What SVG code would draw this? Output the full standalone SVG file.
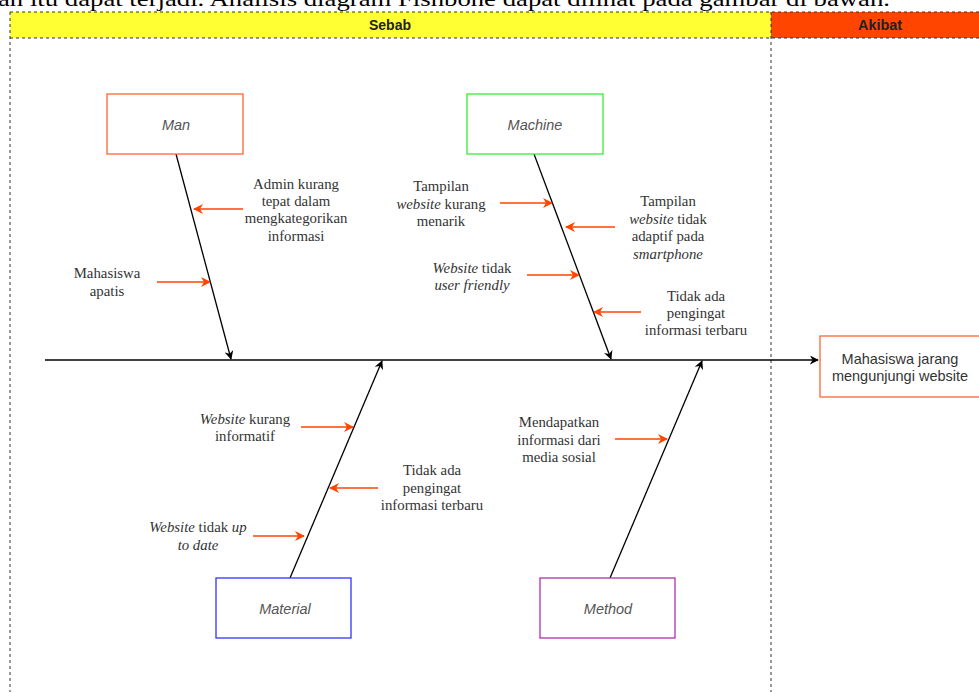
<svg xmlns="http://www.w3.org/2000/svg" width="979" height="692" viewBox="0 0 979 692">
<defs>
<style>
.lbl{font-family:"Liberation Serif","Times New Roman",serif;font-size:14.8px;fill:#333;text-anchor:middle}
.box{fill:#fff;stroke-width:1.3}
.bt{font-family:"Liberation Sans",Arial,sans-serif;font-size:14.5px;font-style:italic;fill:#555;text-anchor:middle}
.bone{stroke:#000;stroke-width:1.3;fill:none;marker-end:url(#ab)}
.sm{stroke:#FF4500;stroke-width:1.3;fill:none;marker-end:url(#ao)}
.dash{stroke:#333;stroke-width:1;stroke-dasharray:3 3;fill:none}
.hd{font-family:"Liberation Sans",Arial,sans-serif;font-size:14px;font-weight:bold;fill:#222;text-anchor:middle}
</style>
<marker id="ab" viewBox="0 0 10 10" refX="9" refY="5" markerWidth="9" markerHeight="9" markerUnits="userSpaceOnUse" orient="auto"><path d="M0,0 L10,5 L0,10 L3,5 Z" fill="#000"/></marker>
<marker id="ao" viewBox="0 0 10 10" refX="9" refY="5" markerWidth="10" markerHeight="10" markerUnits="userSpaceOnUse" orient="auto"><path d="M0,0 L10,5 L0,10 L3,5 Z" fill="#FF4500"/></marker>
</defs>
<rect width="979" height="692" fill="#fff"/>
<text x="-2" y="6" font-family="Liberation Serif,Times New Roman,serif" font-size="22" fill="#000" textLength="892" lengthAdjust="spacingAndGlyphs">an itu dapat terjadi. Analisis diagram Fishbone dapat dilihat pada gambar di bawah.</text>
<g id="header">
<rect x="10" y="12" width="761" height="26" fill="#FFFF33"/>
<rect x="771" y="12" width="210" height="26" fill="#FF4500"/>
<path class="dash" d="M10,12 H979 M10,38 H979 M10,12 V692 M771,12 V692"/>
<text class="hd" x="390" y="30" textLength="42" lengthAdjust="spacingAndGlyphs">Sebab</text>
<text class="hd" x="880" y="30" textLength="44" lengthAdjust="spacingAndGlyphs">Akibat</text>
</g>
<g id="connectors">
<line class="bone" x1="45" y1="360" x2="818" y2="360"/>
<line class="bone" x1="176" y1="154" x2="231" y2="359"/>
<line class="bone" x1="534" y1="154" x2="611" y2="359"/>
<line class="bone" x1="290" y1="578" x2="382" y2="361"/>
<line class="bone" x1="610" y1="578" x2="702" y2="361"/>
<line class="sm" x1="243" y1="209" x2="194" y2="209"/>
<line class="sm" x1="157" y1="282" x2="210" y2="282"/>
<line class="sm" x1="500" y1="203" x2="552" y2="203"/>
<line class="sm" x1="615" y1="227" x2="566" y2="227"/>
<line class="sm" x1="527" y1="275" x2="579" y2="275"/>
<line class="sm" x1="641" y1="312" x2="594" y2="312"/>
<line class="sm" x1="301" y1="427" x2="353" y2="427"/>
<line class="sm" x1="378" y1="488" x2="330" y2="488"/>
<line class="sm" x1="253" y1="536" x2="304" y2="536"/>
<line class="sm" x1="615" y1="439" x2="667" y2="439"/>
</g>
<g id="man"><rect class="box" x="107" y="94" width="136" height="60" stroke="#FF6633"/><text class="bt" x="176" y="130">Man</text></g>
<g id="machine"><rect class="box" x="467" y="94" width="136" height="60" stroke="#33EE33"/><text class="bt" x="535" y="130">Machine</text></g>
<g id="material"><rect class="box" x="216" y="578" width="135" height="60" stroke="#3333FF"/><text class="bt" x="285" y="614">Material</text></g>
<g id="method"><rect class="box" x="540" y="578" width="135" height="60" stroke="#B030B0"/><text class="bt" x="608" y="614">Method</text></g>
<g id="effect"><rect class="box" x="820" y="336" width="162" height="61" stroke="#FF6633"/>
<text x="900" y="364" font-family="Liberation Sans,Arial,sans-serif" font-size="14.5" fill="#333" text-anchor="middle">Mahasiswa jarang</text>
<text x="900" y="381" font-family="Liberation Sans,Arial,sans-serif" font-size="14.5" fill="#333" text-anchor="middle">mengunjungi website</text></g>
<g id="c-admin"><text class="lbl"><tspan x="296" y="189">Admin kurang</tspan><tspan x="296" y="206">tepat dalam</tspan><tspan x="296" y="223">mengkategorikan</tspan><tspan x="296" y="241">informasi</tspan></text></g>
<g id="c-apatis"><text class="lbl"><tspan x="107" y="278">Mahasiswa</tspan><tspan x="107" y="296">apatis</tspan></text></g>
<g id="c-tampilan1"><text class="lbl"><tspan x="441" y="191">Tampilan</tspan><tspan x="441" y="209"><tspan font-style="italic">website</tspan> kurang</tspan><tspan x="441" y="226">menarik</tspan></text></g>
<g id="c-tampilan2"><text class="lbl"><tspan x="668" y="206">Tampilan</tspan><tspan x="668" y="224"><tspan font-style="italic">website</tspan> tidak</tspan><tspan x="668" y="241">adaptif pada</tspan><tspan x="668" y="259" font-style="italic">smartphone</tspan></text></g>
<g id="c-userfriendly"><text class="lbl"><tspan x="472" y="273"><tspan font-style="italic">Website</tspan> tidak</tspan><tspan x="472" y="290" font-style="italic">user friendly</tspan></text></g>
<g id="c-pengingat1"><text class="lbl"><tspan x="696" y="301">Tidak ada</tspan><tspan x="696" y="318">pengingat</tspan><tspan x="696" y="335">informasi terbaru</tspan></text></g>
<g id="c-informatif"><text class="lbl"><tspan x="245" y="424"><tspan font-style="italic">Website</tspan> kurang</tspan><tspan x="245" y="441">informatif</tspan></text></g>
<g id="c-pengingat2"><text class="lbl"><tspan x="432" y="475">Tidak ada</tspan><tspan x="432" y="493">pengingat</tspan><tspan x="432" y="510">informasi terbaru</tspan></text></g>
<g id="c-uptodate"><text class="lbl"><tspan x="198" y="532"><tspan font-style="italic">Website</tspan> tidak <tspan font-style="italic">up</tspan></tspan><tspan x="198" y="550" font-style="italic">to date</tspan></text></g>
<g id="c-medsos"><text class="lbl"><tspan x="559" y="427">Mendapatkan</tspan><tspan x="559" y="445">informasi dari</tspan><tspan x="559" y="462">media sosial</tspan></text></g>
</svg>
